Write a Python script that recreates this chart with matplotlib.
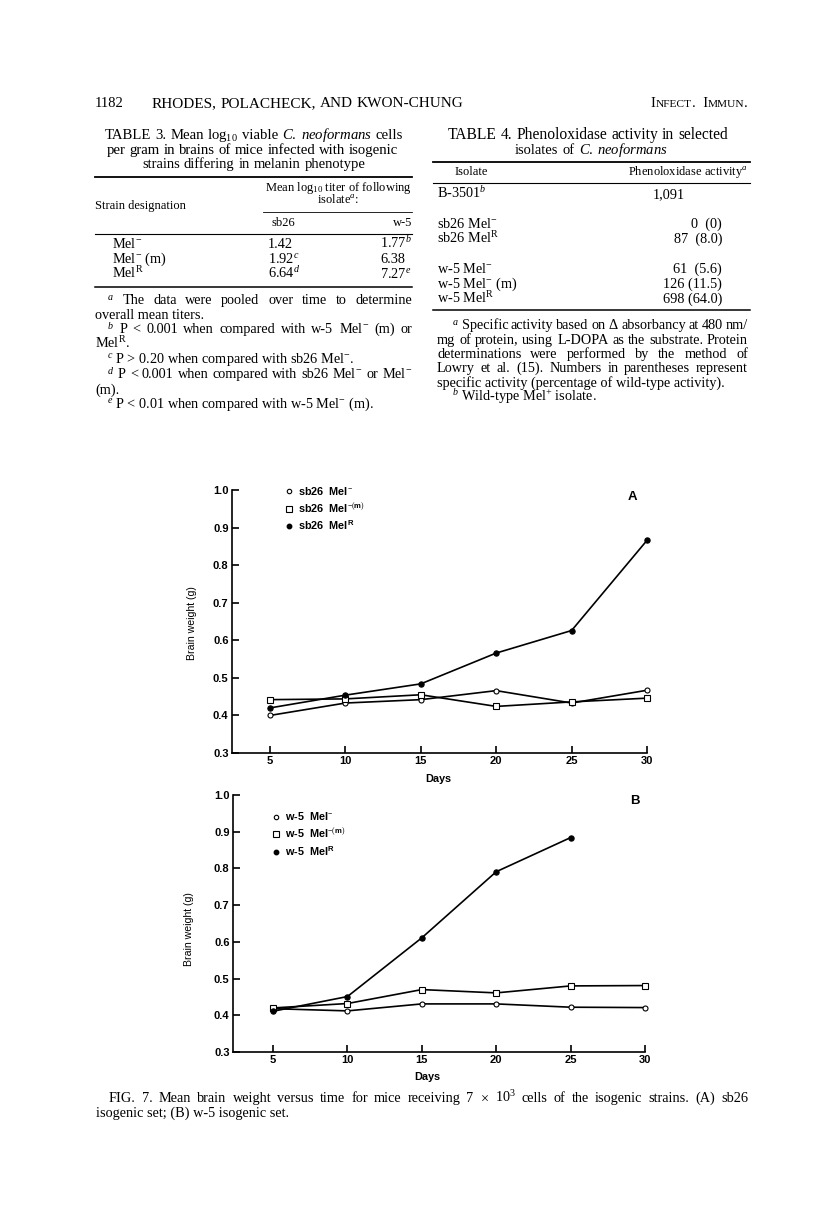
import matplotlib
matplotlib.use('Agg')
import matplotlib.pyplot as plt
from matplotlib.lines import Line2D

plt.rcParams['mathtext.fontset'] = 'custom'
plt.rcParams['mathtext.rm'] = 'Liberation Serif'
plt.rcParams['mathtext.it'] = 'Liberation Serif:italic'
plt.rcParams['mathtext.sf'] = 'Liberation Sans:bold'

# ---------------- data ----------------
days = [5, 10, 15, 20, 25, 30]
a_mel_minus = [0.400, 0.433, 0.442, 0.466, 0.433, 0.467]
a_mel_minus_m = [0.442, 0.444, 0.455, 0.424, 0.436, 0.446]
a_mel_r = [0.420, 0.454, 0.484, 0.566, 0.626, 0.866]
b_mel_minus = [0.418, 0.412, 0.431, 0.431, 0.422, 0.421]
b_mel_minus_m = [0.420, 0.432, 0.470, 0.461, 0.480, 0.481]
b_mel_r = [0.411, 0.451, 0.611, 0.791, 0.884]
a_labels = ['sb26  Mel$^{-}$', 'sb26  Mel$^{-(\\mathsf{m})}$', 'sb26  Mel$^{\\mathsf{R}}$']
b_labels = ['w-5  Mel$^{-}$', 'w-5  Mel$^{-(\\mathsf{m})}$', 'w-5  Mel$^{\\mathsf{R}}$']
xticks = [5, 10, 15, 20, 25, 30]
yticks = [0.3, 0.4, 0.5, 0.6, 0.7, 0.8, 0.9, 1.0]

t3_rows = ['Mel$^{-}$', 'Mel$^{-}$ (m)', 'Mel$^{\\mathrm{R}}$']
t3_sb26 = ['1.42', '1.92$^{\\mathit{c}}$', '6.64$^{\\mathit{d}}$']
t3_w5 = ['1.77$^{\\mathit{b}}$', '6.38', '7.27$^{\\mathit{e}}$']
t4_rows = ['sb26 Mel$^{-}$', 'sb26 Mel$^{\\mathrm{R}}$', 'w-5 Mel$^{-}$',
           'w-5 Mel$^{-}$ (m)', 'w-5 Mel$^{\\mathrm{R}}$']
t4_vals = ['0  (0)', '87  (8.0)', '61  (5.6)', '126 (11.5)', '698 (64.0)']

# ---------------- figure ----------------
W, H = 816, 1206
fig = plt.figure(figsize=(W / 100, H / 100), dpi=100)
renderer = fig.canvas.get_renderer()
SERIF = 'Liberation Serif'
SANS = 'Liberation Sans'


def fx(x):
    return x / W


def fy(y):
    return 1 - y / H


def put(x, y, s, size=10, ha='left', **kw):
    kw.setdefault('family', SERIF)
    return fig.text(fx(x), fy(y), s, fontsize=size, ha=ha, va='baseline', **kw)


def width(t):
    return t.get_window_extent(renderer).width


def justify(x0, x1, y, s, size=10, **kw):
    words = s.split(' ')
    ts = [put(0, y, w, size, **kw) for w in words]
    ws = [width(t) for t in ts]
    gap = (x1 - x0 - sum(ws)) / max(len(ws) - 1, 1)
    x = x0
    for t, w in zip(ts, ws):
        t.set_x(fx(x))
        x += w + gap


def fit(x0, x1, y, s, base=10, maxsize=12.5):
    t = put(0, y, s, base)
    w = width(t)
    t.remove()
    size = min(base * (x1 - x0) / w, maxsize)
    justify(x0, x1, y, s, size)


def hline(x0, x1, y, lw=0.8):
    fig.add_artist(Line2D([fx(x0), fx(x1)], [fy(y), fy(y)], color='black', lw=lw,
                          transform=fig.transFigure))


def runs(x, y, parts, ha='left', gap=0.0):
    ts = [put(0, y, s, sz) for s, sz in parts]
    ws = [width(t) for t in ts]
    total = sum(ws) + gap * (len(ws) - 1)
    if ha == 'right':
        x -= total
    for t, w in zip(ts, ws):
        t.set_x(fx(x))
        x += w + gap


# header
put(95, 107, '1182', 10.5)
fit(152, 463, 107, 'RHODES, POLACHECK, AND KWON-CHUNG')
runs(748, 107, [('I', 10.5), ('NFECT', 8.2), ('.', 10.5), ('  I', 10.5), ('MMUN', 8.2), ('.', 10.5)], ha='right')

# Table 3
fit(105, 403, 139, 'TABLE 3. Mean log$_{10}$ viable $\\mathit{C.}$ $\\mathit{neoformans}$ cells')
fit(107, 398, 154, 'per gram in brains of mice infected with isogenic')
fit(142, 366, 168, 'strains differing in melanin phenotype')
hline(95, 412, 177, 1.3)
put(338, 191, 'Mean log$_{10}$ titer of following', 9, ha='center')
put(338, 203, 'isolate$^{\\mathit{a}}$:', 9, ha='center')
put(95, 209, 'Strain designation', 9)
hline(263, 412, 212, 0.6)
put(271, 226, 'sb26', 9)
put(412, 226, 'w-5', 9, ha='right')
hline(95, 412, 234, 0.8)
for i, (r, v1, v2) in enumerate(zip(t3_rows, t3_sb26, t3_w5)):
    yb = 248 + i * 15
    put(112, yb, r, 10.3)
    put(268, yb, v1, 10.3)
    put(380, yb, v2, 10.3)
hline(95, 412, 287, 1.1)
justify(107, 412, 304, '$^{\\mathit{a}}$ The data were pooled over time to determine', 10.3)
put(95, 319, 'overall mean titers.', 10.3)
justify(107, 412, 333, '$^{\\mathit{b}}$ P < 0.001 when compared with w-5 Mel$^{-}$ (m) or', 10.3)
put(95, 348, 'Mel$^{\\mathrm{R}}$.', 10.3)
put(107, 363, '$^{\\mathit{c}}$ P > 0.20 when compared with sb26 Mel$^{-}$.', 10.3)
justify(107, 412, 378, '$^{\\mathit{d}}$ P < 0.001 when compared with sb26 Mel$^{-}$ or Mel$^{-}$', 10.3)
put(95, 394, '(m).', 10.3)
put(107, 408, '$^{\\mathit{e}}$ P < 0.01 when compared with w-5 Mel$^{-}$ (m).', 10.3)

# Table 4
fit(448, 728, 139, 'TABLE 4. Phenoloxidase activity in selected')
fit(515, 668, 154, 'isolates of $\\mathit{C.}$ $\\mathit{neoformans}$')
hline(433, 750, 162, 1.3)
put(455, 175, 'Isolate', 9)
put(748, 175, 'Phenoloxidase activity$^{\\mathit{a}}$', 9, ha='right')
hline(433, 750, 183, 0.8)
put(437, 198, 'B-3501$^{\\mathit{b}}$', 10.3)
put(653, 198, '1,091', 10.3)
t4_y = [228, 243, 273, 288, 303]
for r, v, yb in zip(t4_rows, t4_vals, t4_y):
    put(437, yb, r, 10.3)
    put(722, yb, v, 10.3, ha='right')
hline(433, 750, 310, 1.1)
justify(452, 748, 329, '$^{\\mathit{a}}$ Specific activity based on $\\Delta$ absorbancy at 480 nm/', 10.3)
justify(437, 748, 344, 'mg of protein, using L-DOPA as the substrate. Protein', 10.3)
justify(437, 748, 358, 'determinations were performed by the method of', 10.3)
justify(437, 748, 372, 'Lowry et al. (15). Numbers in parentheses represent', 10.3)
put(437, 387, 'specific activity (percentage of wild-type activity).', 10.3)
put(452, 401, '$^{\\mathit{b}}$ Wild-type Mel$^{+}$ isolate.', 10.3)

# caption
justify(109, 748, 1102, 'FIG. 7. Mean brain weight versus time for mice receiving 7 $\\times$ 10$^{3}$ cells of the isogenic strains. (A) sb26', 10.3)
put(96, 1117, 'isogenic set; (B) w-5 isogenic set.', 10.3)


# ---------------- charts ----------------
def panel(rect, xlo, series, labels, letter, leg_anchor, days_xy, bw_xy):
    ax = fig.add_axes(rect)
    styles = [dict(marker='o', ms=3.6, mfc='white', mec='black', mew=0.8),
              dict(marker='s', ms=5.0, mfc='white', mec='black', mew=0.8),
              dict(marker='o', ms=3.8, mfc='black', mec='black', mew=0.8)]
    for (xs, ys), st in zip(series, styles):
        ax.plot(xs, ys, color='black', lw=1.2, clip_on=False, zorder=3, **st)
    ax.set_xlim(xlo, 30)
    ax.set_ylim(0.3, 1.0)
    ax.set_xticks(xticks)
    ax.set_yticks(yticks)
    ax.set_yticklabels([f'{v:.1f}' for v in yticks])
    for s in ['top', 'right']:
        ax.spines[s].set_visible(False)
    for s in ['left', 'bottom']:
        ax.spines[s].set_linewidth(1.2)
    ax.tick_params(direction='in', length=5, width=1.2, pad=2.5, labelsize=8)
    for lab in ax.get_xticklabels() + ax.get_yticklabels():
        lab.set_family(SANS)
        lab.set_fontweight('bold')
    ax.set_xlabel('Days', fontsize=7.8, family=SANS, fontweight='bold')
    ax.set_ylabel('Brain weight (g)', fontsize=7.6, family=SANS)
    ax.xaxis.set_label_coords(*days_xy)
    ax.yaxis.set_label_coords(*bw_xy)
    ax.text(*letter[1], letter[0], transform=ax.transAxes, fontsize=9.5, fontweight='bold',
            family=SANS, ha='center', va='center')
    handles = [Line2D([], [], ls='none', marker='o', ms=3.2, mfc='white', mec='black', mew=0.8),
               Line2D([], [], ls='none', marker='s', ms=4.6, mfc='white', mec='black', mew=0.8),
               Line2D([], [], ls='none', marker='o', ms=3.2, mfc='black', mec='black')]
    ax.legend(handles, labels, loc='upper left', bbox_to_anchor=leg_anchor, frameon=False,
              borderpad=0, borderaxespad=0, handlelength=0.6, handletextpad=0.5,
              labelspacing=0.4, prop={'family': SANS, 'size': 7.8, 'weight': 'bold'})
    return ax


panel([232 / W, 1 - 753 / H, 415 / W, 263 / H], 2.48,
      [(days, a_mel_minus), (days, a_mel_minus_m), (days, a_mel_r)],
      a_labels, ('A', (0.964, 0.973)), (0.13, 1.02), (0.496, -0.08), (-0.084, 0.494))
panel([233 / W, 1 - 1052 / H, 412 / W, 257 / H], 2.31,
      [(days, b_mel_minus), (days, b_mel_minus_m), (days[:5], b_mel_r)],
      b_labels, ('B', (0.976, 0.977)), (0.097, 0.94), (0.471, -0.078), (-0.095, 0.48))

fig.savefig('out.png', dpi=100)
